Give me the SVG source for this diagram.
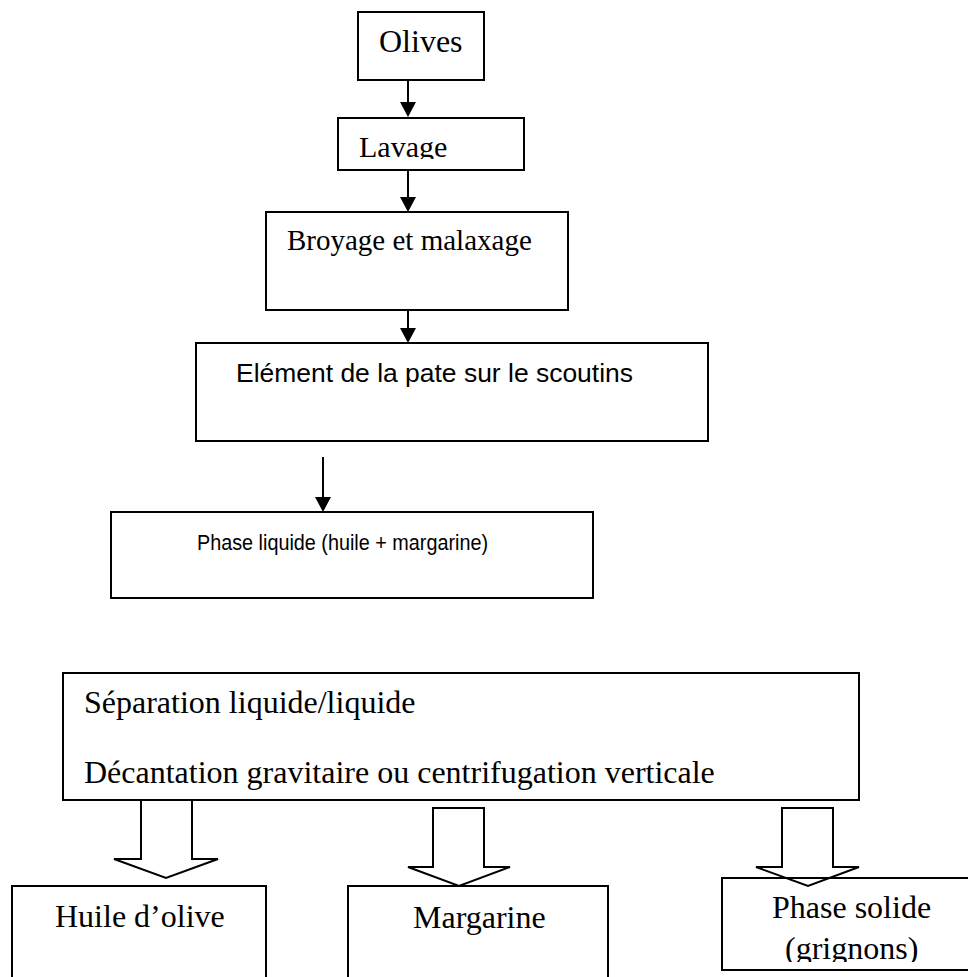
<svg xmlns="http://www.w3.org/2000/svg" width="968" height="977" viewBox="0 0 968 977">
<style>
.box{fill:none;stroke:#000;stroke-width:2}
.serif{font-family:"Liberation Serif","Times New Roman",serif;fill:#000}
.sans{font-family:"Liberation Sans",Arial,sans-serif;fill:#000}
.line{stroke:#000;stroke-width:2;fill:none}
.block{fill:#fff;stroke:#000;stroke-width:2;stroke-linejoin:miter}
</style>
<defs>
<marker id="ah" markerUnits="userSpaceOnUse" markerWidth="16" markerHeight="16" viewBox="0 0 15 16" refX="3" refY="8" orient="auto">
<path d="M0,0 L15,8 L0,16 z" fill="#000"/>
</marker>
<clipPath id="clipLavage"><rect x="338" y="118" width="186" height="41"/></clipPath>
<clipPath id="clipSolide"><rect x="722" y="878" width="246" height="84"/></clipPath>
</defs>
<rect width="968" height="977" fill="#fff"/>
<g id="connectors">
<line class="line" x1="408" y1="80" x2="408" y2="105" marker-end="url(#ah)"/>
<line class="line" x1="408" y1="170" x2="408" y2="200" marker-end="url(#ah)"/>
<line class="line" x1="408" y1="310" x2="408" y2="331" marker-end="url(#ah)"/>
<line class="line" x1="323" y1="457" x2="323" y2="500" marker-end="url(#ah)"/>
<path class="block" d="M141,800 L141,859 L114,859 L166,878 L218,859 L192,859 L192,800"/>
<path class="block" d="M433,808 L484,808 L484,867 L510,867 L459,886 L408,867 L433,867 Z"/>
<path class="block" d="M782,808 L833,808 L833,867 L859,867 L808,886 L756,867 L782,867 Z"/>
</g>
<g id="olives">
<rect class="box" x="358" y="12" width="126" height="68"/>
<text class="serif" x="379" y="52" font-size="32">Olives</text>
</g>
<g id="lavage">
<rect class="box" x="338" y="118" width="186" height="52"/>
<text class="serif" x="359" y="157" font-size="30" clip-path="url(#clipLavage)">Lavage</text>
</g>
<g id="broyage">
<rect class="box" x="266" y="212" width="302" height="98"/>
<text class="serif" x="287" y="250" font-size="29">Broyage et malaxage</text>
</g>
<g id="element">
<rect class="box" x="196" y="343" width="512" height="98"/>
<text class="sans" x="236" y="382" font-size="26" textLength="397" lengthAdjust="spacingAndGlyphs">Elément de la pate sur le scoutins</text>
</g>
<g id="phase-liquide">
<rect class="box" x="111" y="512" width="482" height="86"/>
<text class="sans" x="197" y="550" font-size="22" textLength="291" lengthAdjust="spacingAndGlyphs">Phase liquide (huile + margarine)</text>
</g>
<g id="separation">
<rect class="box" x="63" y="673" width="796" height="127"/>
<text class="serif" x="84" y="713" font-size="32">Séparation liquide/liquide</text>
<text class="serif" x="84" y="783" font-size="32">Décantation gravitaire ou centrifugation verticale</text>
</g>
<g id="huile">
<rect class="box" x="12" y="886" width="254" height="110"/>
<text class="serif" x="55" y="927" font-size="32">Huile d’olive</text>
</g>
<g id="margarine">
<rect class="box" x="348" y="886" width="260" height="110"/>
<text class="serif" x="413" y="928" font-size="32">Margarine</text>
</g>
<g id="phase-solide">
<rect class="box" x="722" y="878" width="260" height="92"/>
<text class="serif" x="772" y="918" font-size="32">Phase solide</text>
<text class="serif" x="785" y="959" font-size="32" clip-path="url(#clipSolide)">(grignons)</text>
</g>
</svg>
